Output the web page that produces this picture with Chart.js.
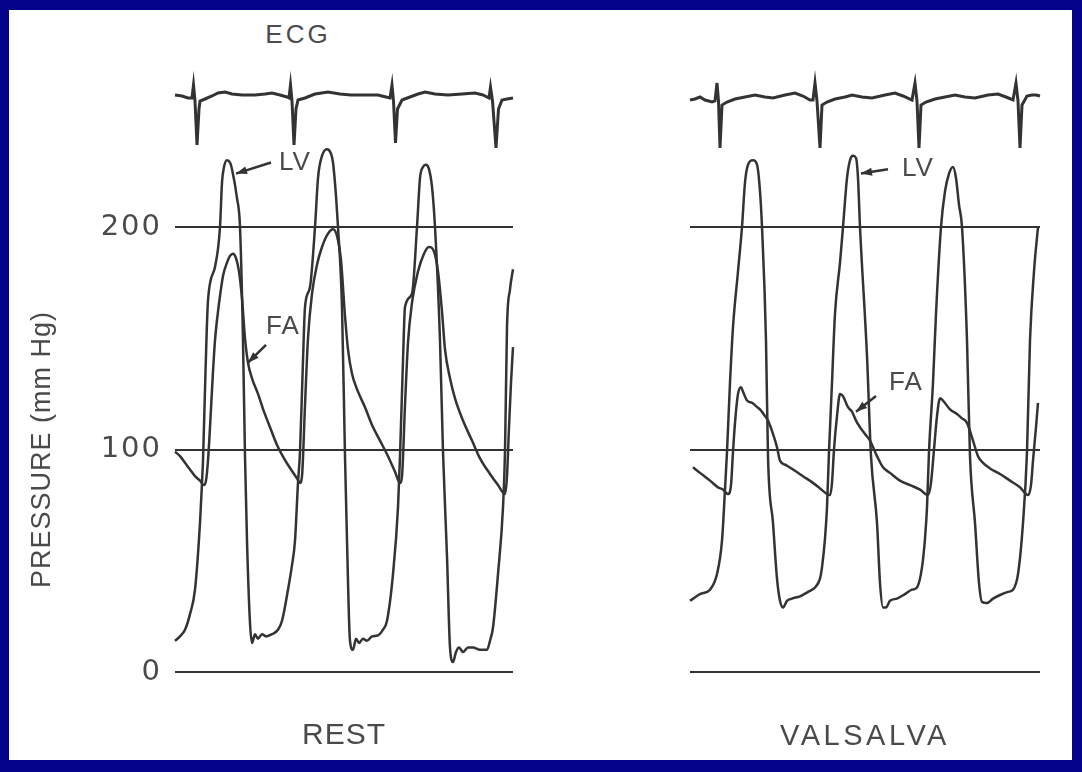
<!DOCTYPE html>
<html>
<head>
<meta charset="utf-8">
<script src="https://cdn.jsdelivr.net/npm/chart.js@4"></script>
<style>
  html, body { margin: 0; padding: 0; }
  body { width: 1082px; height: 772px; background: #03038c; position: relative; overflow: hidden; font-family: "Liberation Sans", Arial, sans-serif; }
  .paper { position: absolute; left: 9px; top: 10px; width: 1063px; height: 750px; background: #fff; }
  canvas { position: absolute; top: 0; }
  #rest { left: 0; }
  #vals { left: 540px; }
  .ecg { position: absolute; left: 298px; top: 34px; transform: translate(-50%, -50%); font-size: 26px; letter-spacing: 3px; color: #4c4c4c; }
</style>
</head>
<body>
<div class="paper"></div>
<div class="ecg">ECG</div>
<canvas id="rest" width="540" height="772"></canvas>
<canvas id="vals" width="542" height="772"></canvas>
<script>
// time in ms from the start of each strip, pressure in mm Hg, ECG in mV
const yTicks = [0, 100, 200];

const restEcg = [[0,0.05],[56,0.025],[104,-0.025],[136,-0.025],[148,0.3],[160,-0.1],[176,-1.2],[192,-0.3],[200,-0.1],[240,-0.05],[296,0.025],[344,0.1],[400,0.125],[456,0.075],[536,0.05],[640,0.05],[720,0.075],[776,0.1],[840,0.05],[896,0],[912,-0.025],[924,0.3],[936,-0.1],[952,-1.2],[968,-0.3],[984,-0.075],[1040,-0.025],[1120,0.075],[1224,0.125],[1320,0.075],[1408,0.05],[1520,0.05],[1624,0.05],[1688,0],[1720,-0.025],[1736,0.3],[1748,-0.1],[1764,-1.15],[1780,-0.3],[1816,-0.075],[1880,0],[1944,0.075],[2000,0.125],[2080,0.075],[2184,0.05],[2296,0.075],[2400,0.1],[2464,0.05],[2496,0],[2512,-0.025],[2524,0.25],[2540,-0.1],[2568,-1.275],[2588,-0.3],[2616,-0.075],[2656,-0.05],[2704,-0.025]];

const restLV = [[0,14],[40,16],[80,19],[120,26],[160,37],[200,67],[216,85],[224,95],[244,135],[264,167],[320,182],[360,200],[376,220],[392,227],[416,230],[440,229],[456,226],[496,213],[520,200],[544,149],[560,97],[576,59],[600,22],[616,13],[640,17],[664,15],[696,17],[728,16],[776,17],[824,19],[856,23],[904,37],[936,48],[960,59],[984,85],[1000,99],[1024,140],[1040,164],[1080,173],[1120,200],[1144,222],[1176,232],[1216,235],[1248,233],[1264,229],[1288,214],[1304,200],[1336,164],[1360,97],[1376,59],[1400,14],[1424,10],[1448,15],[1472,13],[1504,15],[1536,14],[1576,16],[1624,16.5],[1664,19],[1696,23],[1744,44],[1784,74],[1800,97],[1824,140],[1840,164],[1896,170],[1936,200],[1960,222],[1984,227],[2008,228],[2032,226],[2056,218],[2080,200],[2120,149],[2144,99],[2176,52],[2200,11],[2224,4.5],[2248,9],[2272,11],[2304,9],[2344,11],[2384,11],[2440,10],[2496,10],[2520,14],[2544,20],[2584,44],[2624,74],[2640,99],[2656,155],[2680,172],[2704,181]];

const restFA = [[0,99],[40,97],[80,94],[120,91],[160,88],[200,86],[232,84],[248,86],[264,95],[280,110],[304,135],[320,149],[344,162],[360,169],[384,178],[416,184],[440,187],[464,188],[488,186],[512,180],[536,168],[560,150],[584,139],[616,132],[664,125],[712,117],[760,110],[816,102],[872,96],[928,91],[976,87],[1000,85],[1016,88],[1040,120],[1064,150],[1096,170],[1136,183],[1176,191],[1224,197],[1264,199],[1296,196],[1328,185],[1360,160],[1384,145],[1416,134],[1464,126],[1520,119],[1576,111],[1640,104],[1704,97],[1760,90],[1800,85],[1816,88],[1840,120],[1864,148],[1896,166],[1944,180],[1992,188],[2032,191],[2072,189],[2104,180],[2136,162],[2160,145],[2200,132],[2240,123],[2304,113],[2376,104],[2440,96],[2520,89],[2584,84],[2640,80],[2656,88],[2672,110],[2688,130],[2704,146]];

const valsEcg = [[0,-0.075],[40,-0.05],[80,0],[120,-0.075],[176,-0.125],[200,-0.1],[216,0.35],[228,-0.1],[240,-1.275],[256,-0.2],[296,-0.125],[360,-0.05],[440,0],[520,0.05],[600,0],[664,-0.025],[760,0.05],[840,0.1],[904,0.025],[960,-0.075],[984,-0.075],[1000,0.35],[1016,-0.1],[1040,-1.275],[1056,-0.2],[1096,-0.125],[1160,-0.05],[1240,0],[1296,0.05],[1376,0],[1456,-0.025],[1560,0.05],[1640,0.1],[1704,0.025],[1776,-0.075],[1800,0.35],[1816,-0.1],[1832,-1.275],[1848,-0.2],[1888,-0.125],[1960,-0.05],[2040,0],[2120,0.05],[2200,0],[2280,-0.025],[2384,0.05],[2464,0.075],[2528,0],[2584,-0.075],[2608,0.35],[2624,-0.1],[2640,-1.275],[2656,-0.2],[2696,0.025],[2736,0.05],[2768,0.05],[2800,0.025]];

const valsLV = [[0,32],[80,35],[160,37],[216,44],[256,59],[280,82],[296,99],[320,130],[344,155],[384,180],[416,200],[440,220],[464,228],[504,230],[536,228],[560,216],[576,200],[608,149],[624,97],[664,67],[696,42],[720,32],[744,29],[776,32],[816,33],[880,34],[944,36],[1000,38],[1040,42],[1056,47],[1080,60],[1096,74],[1112,99],[1136,130],[1160,161],[1200,184],[1224,200],[1256,222],[1280,230],[1304,232],[1328,231],[1344,222],[1360,200],[1416,142],[1448,97],[1496,67],[1520,40],[1544,29],[1568,29],[1600,32],[1656,33],[1720,35],[1776,37],[1816,38],[1856,47],[1880,60],[1896,74],[1912,99],[1944,130],[1968,161],[2008,200],[2040,216],[2072,224],[2104,227],[2128,222],[2152,210],[2176,200],[2216,149],[2240,97],[2280,67],[2312,40],[2336,31.5],[2376,31],[2424,33],[2480,34.6],[2544,36],[2584,37],[2624,44],[2664,67],[2696,99],[2720,149],[2752,180],[2784,200]];

const valsFA = [[24,92],[80,89.5],[160,86],[224,83],[264,82],[304,80],[328,84],[344,99],[360,112],[384,125],[408,128],[424,126],[456,122],[496,121],[528,119.5],[560,118],[600,115],[624,113],[664,107],[696,101],[720,95],[768,93],[824,91],[904,88],[984,85],[1040,82.5],[1096,80],[1120,79.5],[1136,85],[1152,100],[1176,115],[1200,125],[1224,124],[1264,119],[1296,117],[1328,113],[1360,110],[1400,107],[1440,104],[1496,97],[1544,92],[1600,89.5],[1680,86],[1760,84],[1840,82],[1904,79.5],[1928,85],[1952,100],[1976,115],[2000,123],[2024,122],[2080,118],[2136,116],[2176,114],[2216,112],[2264,104],[2304,97],[2344,94],[2400,91.5],[2480,89],[2560,86],[2640,83],[2704,79.5],[2728,84],[2744,95],[2768,110],[2784,121]];

// callouts: text position, arrow start, arrow tip (time, mm Hg)
const restNotes = [
  {text: 'LV', at: [960, 229], from: [768, 229], to: [488, 224]},
  {text: 'FA', at: [864, 155], from: [728, 147], to: [584, 139]}
];
const valsNotes = [
  {text: 'LV', at: [1824, 226], from: [1584, 226], to: [1368, 224]},
  {text: 'FA', at: [1728, 130], from: [1488, 124], to: [1328, 117]}
];

const ink = '#333333';
const textInk = '#4a4a4a';
const face = '"Liberation Sans", Arial, sans-serif';
const tickFace = '"DejaVu Sans", sans-serif';

const pts = arr => arr.map(p => ({x: p[0], y: p[1]}));

function trace(data, axis, width) {
  return {
    data: pts(data),
    yAxisID: axis,
    borderColor: ink,
    borderWidth: width,
    pointRadius: 0,
    clip: false,
    tension: 0,
    cubicInterpolationMode: axis === 'y' ? 'monotone' : 'default'
  };
}

function spacing(base, ticks) {
  return {
    id: 'spacing',
    beforeDraw(chart) { chart.ctx.letterSpacing = base; },
    afterDatasetsDraw(chart) { chart.ctx.letterSpacing = ticks; },
    afterDraw(chart) { chart.ctx.letterSpacing = '0px'; }
  };
}

function callouts(notes) {
  return {
    id: 'callouts',
    afterDraw(chart) {
      const ctx = chart.ctx, sx = chart.scales.x, sy = chart.scales.y;
      ctx.save();
      ctx.strokeStyle = ink;
      ctx.fillStyle = ink;
      ctx.lineWidth = 2.5;
      notes.forEach(n => {
        const x1 = sx.getPixelForValue(n.from[0]), y1 = sy.getPixelForValue(n.from[1]);
        const x2 = sx.getPixelForValue(n.to[0]), y2 = sy.getPixelForValue(n.to[1]);
        const a = Math.atan2(y2 - y1, x2 - x1);
        ctx.beginPath();
        ctx.moveTo(x1, y1);
        ctx.lineTo(x2, y2);
        ctx.stroke();
        ctx.beginPath();
        ctx.moveTo(x2, y2);
        ctx.lineTo(x2 - 11 * Math.cos(a) + 4 * Math.sin(a), y2 - 11 * Math.sin(a) - 4 * Math.cos(a));
        ctx.lineTo(x2 - 11 * Math.cos(a) - 4 * Math.sin(a), y2 - 11 * Math.sin(a) + 4 * Math.cos(a));
        ctx.closePath();
        ctx.fill();
        ctx.letterSpacing = '1px';
        ctx.fillStyle = textInk;
        ctx.font = '26px ' + face;
        ctx.textAlign = 'center';
        ctx.textBaseline = 'middle';
        ctx.fillText(n.text, sx.getPixelForValue(n.at[0]), sy.getPixelForValue(n.at[1]));
        ctx.fillStyle = ink;
      });
      ctx.restore();
    }
  };
}

function strip(id, ecg, lv, fa, notes, opts) {
  return new Chart(document.getElementById(id), {
    type: 'line',
    data: {
      datasets: [trace(ecg, 'ecg', 3), trace(lv, 'y', 2.5), trace(fa, 'y', 2.5)]
    },
    options: {
      responsive: false,
      animation: false,
      layout: { padding: opts.padding },
      plugins: { legend: { display: false }, tooltip: { enabled: false } },
      scales: {
        x: {
          type: 'linear', min: 0, max: opts.span,
          grid: { display: false, drawTicks: false },
          border: { display: false },
          ticks: { display: false },
          afterFit: s => { s.height = 88; },
          title: { display: true, text: opts.name, color: textInk, font: { family: face, size: opts.nameSize }, padding: { top: 46, bottom: 6 } }
        },
        y: {
          min: 0, max: 200,
          afterBuildTicks: s => { s.ticks = yTicks.map(v => ({ value: v })); },
          afterFit: s => { s.width = opts.axisWidth; },
          grid: { color: ink, lineWidth: 2, drawTicks: false },
          border: { display: false },
          ticks: { display: opts.showTicks, color: textInk, padding: 13, z: 1, font: { family: tickFace, size: 29 } },
          title: { display: opts.showTicks, text: 'PRESSURE (mm Hg)', color: textInk, font: { family: face, size: 27 }, padding: { top: 16, bottom: 0 } }
        },
        ecg: { type: 'linear', display: false, min: -14.375, max: -3.25 }
      }
    },
    plugins: [spacing(opts.spacing, '2px'), callouts(notes)]
  });
}

strip('rest', restEcg, restLV, restFA, restNotes, {
  padding: { left: 10, top: 227, right: 27, bottom: 12 },
  span: 2704, name: 'REST', nameSize: 30, axisWidth: 165, showTicks: true, spacing: '1px'
});

strip('vals', valsEcg, valsLV, valsFA, valsNotes, {
  padding: { left: 150, top: 227, right: 42, bottom: 12 },
  span: 2800, name: 'VALSALVA', nameSize: 29, axisWidth: 0, showTicks: false, spacing: '3.5px'
});
</script>
</body>
</html>
